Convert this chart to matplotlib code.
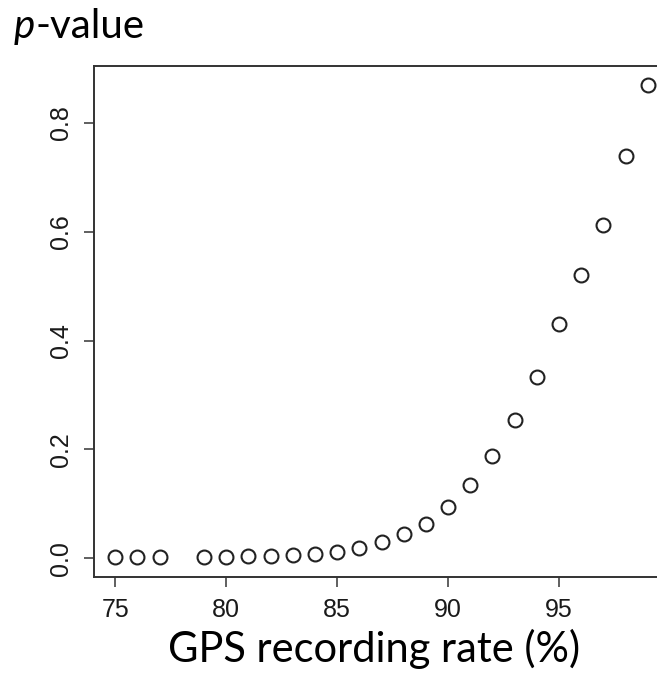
import matplotlib
matplotlib.use("Agg")
import matplotlib.pyplot as plt

rate = [75, 76, 77, 79, 80, 81, 82, 83, 84, 85, 86, 87, 88, 89, 90, 91, 92, 93, 94, 95, 96, 97, 98, 99]
pvalue = [0.002, 0.002, 0.002, 0.002, 0.002, 0.003, 0.004, 0.005, 0.007, 0.012, 0.019, 0.030,
          0.045, 0.063, 0.093, 0.134, 0.187, 0.253, 0.333, 0.430, 0.520, 0.613, 0.740, 0.870]
xticks = [75, 80, 85, 90, 95]
yticks = [0.0, 0.2, 0.4, 0.6, 0.8]

fig = plt.figure(figsize=(6.57, 6.74), dpi=100)
ax = fig.add_axes([94/657, 1 - 577/674, (669 - 94)/657, (577 - 66)/674])

ax.plot(rate, pvalue, linestyle='none', marker='o', markersize=10,
        markerfacecolor='none', markeredgecolor='#222222', markeredgewidth=1.5)

ax.set_xlim(74.04, 99.96)
ax.set_ylim(-0.0348, 0.9048)
ax.set_xticks(xticks)
ax.set_yticks(yticks)
ax.set_xticklabels([str(t) for t in xticks], fontfamily='Liberation Sans', fontsize=18,
                   color='#1a1a1a')
ax.set_yticklabels([f"{t:.1f}" for t in yticks], fontfamily='Liberation Sans', fontsize=18,
                   rotation=90, va='center', color='#1a1a1a')
ax.tick_params(direction='out', length=7, width=1.2, color='#444444', pad=8)
for s in ax.spines.values():
    s.set_linewidth(1.4)
    s.set_color('#333333')

# title "p-value" with italic p
base_y = 1 - 38/674
t = fig.text(14/657, base_y, 'p', fontsize=29, fontfamily='Lato', style='italic',
             va='baseline', ha='left', color='black')
fig.canvas.draw()
bb = t.get_window_extent()
fig.text(bb.x1 / fig.bbox.width, base_y, '-value', fontsize=29, fontfamily='Lato',
         va='baseline', ha='left', color='black')

fig.text(374/657, 1 - 662/674, 'GPS recording rate (%)', fontsize=30, fontfamily='Lato',
         va='baseline', ha='center', color='black')

fig.savefig('out.png', dpi=100)
